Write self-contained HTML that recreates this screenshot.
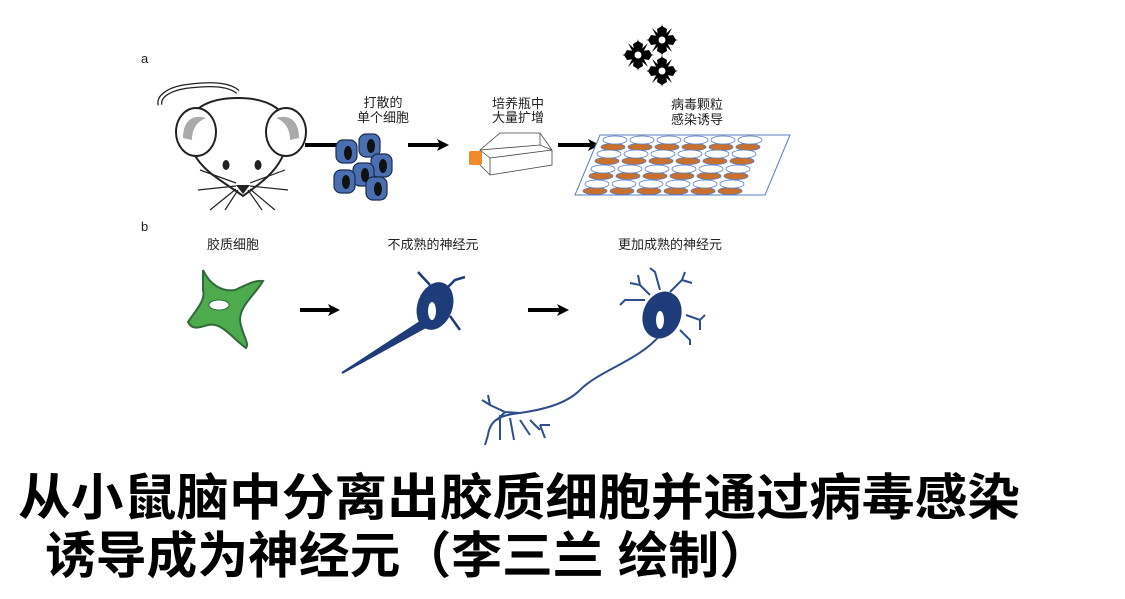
<!DOCTYPE html>
<html><head><meta charset="utf-8"><style>
html,body{margin:0;padding:0;background:#fff;width:1125px;height:599px;overflow:hidden}
svg{display:block}
.s{font-family:"Liberation Sans","Noto Sans CJK SC",sans-serif;font-size:13px;fill:#222}
.cap{font-family:"Liberation Sans","Noto Sans CJK SC",sans-serif;font-weight:bold;font-size:50px;fill:#000}
</style></head><body>
<svg width="1125" height="599" viewBox="0 0 1125 599" xmlns="http://www.w3.org/2000/svg">
<defs>
<marker id="ah" markerWidth="12" markerHeight="12" refX="6" refY="6" orient="auto" markerUnits="userSpaceOnUse"><path d="M0,0 L12,6 L0,12 L3,6 Z" fill="#000"/></marker>
<g id="star"><polygon points="0,-16 2.5,-5 10,-12 5,-2.5 16,0 5,2.5 10,12 2.5,5 0,16 -2.5,5 -10,12 -5,2.5 -16,0 -5,-2.5 -10,-12 -2.5,-5" fill="#000"/><polygon points="0,-14 5,-11 4,-4 11,-5 14,0 11,5 4,4 5,11 0,14 -5,11 -4,4 -11,5 -14,0 -11,-5 -4,-4 -5,-11" fill="#000"/><circle r="3.5" fill="#fff"/></g>
</defs>
<text x="141" y="63" class="s" font-size="14">a</text>
<text x="141" y="231" class="s" font-size="14">b</text>
<!-- mouse -->
<path d="M160,105 C158,96 170,88 190,86 C215,83 230,85 238,92" fill="none" stroke="#222" stroke-width="5"/>
<path d="M160,105 C158,96 170,88 190,86 C215,83 230,85 238,92" fill="none" stroke="#fff" stroke-width="2.5"/>
<path d="M243,196 C222,180 192,168 188,135 C185,108 210,98 238,98 C268,98 292,110 288,138 C284,168 262,182 243,196 Z" fill="#fff" stroke="#222" stroke-width="2"/>
<ellipse cx="196" cy="132" rx="20" ry="24" fill="#fff" stroke="#222" stroke-width="2"/>
<path d="M183,138 C183,120 193,114 206,118 C196,122 192,130 192,140 Z" fill="#aaa"/>
<ellipse cx="286" cy="132" rx="20" ry="24" fill="#fff" stroke="#222" stroke-width="2"/>
<path d="M299,138 C299,120 289,114 276,118 C286,122 290,130 290,140 Z" fill="#aaa"/>
<ellipse cx="226" cy="165" rx="3.5" ry="5" fill="#222"/><ellipse cx="258" cy="165" rx="3.5" ry="5" fill="#222"/>
<path d="M236,185 L250,185 L243,194 Z" fill="#222"/>
<path d="M236,183 L200,170 M236,186 L198,190 M236,189 L210,210 M238,190 L225,210 M250,183 L285,170 M250,186 L288,190 M250,189 L275,210 M248,190 L262,210" stroke="#222" stroke-width="1.2" fill="none"/>
<!-- arrows -->
<line x1="305" y1="145" x2="348" y2="145" stroke="#000" stroke-width="4" marker-end="url(#ah)"/>
<line x1="408" y1="145" x2="443" y2="145" stroke="#000" stroke-width="4" marker-end="url(#ah)"/>
<line x1="558" y1="145" x2="594" y2="145" stroke="#000" stroke-width="4" marker-end="url(#ah)"/>
<!-- cells -->
<g fill="#4a6fb0" stroke="#1a2d55" stroke-width="1.2">
<rect x="336" y="140" width="21" height="23" rx="7"/><rect x="359" y="134" width="21" height="23" rx="7"/>
<rect x="371" y="154" width="21" height="23" rx="7"/><rect x="353" y="163" width="21" height="23" rx="7"/>
<rect x="334" y="170" width="21" height="23" rx="7"/><rect x="366" y="177" width="21" height="23" rx="7"/>
</g>
<g fill="#111">
<ellipse cx="348" cy="153" rx="4" ry="7"/><ellipse cx="371" cy="146" rx="4" ry="7"/><ellipse cx="383" cy="166" rx="4" ry="7"/>
<ellipse cx="365" cy="175" rx="4" ry="7"/><ellipse cx="346" cy="182" rx="4" ry="7"/><ellipse cx="378" cy="189" rx="4" ry="7"/>
</g>
<text x="383" y="107" class="s" text-anchor="middle">打散的</text>
<text x="383" y="122" class="s" text-anchor="middle">单个细胞</text>
<!-- flask -->
<g fill="none" stroke="#444" stroke-width="0.8">
<path d="M480,150 L500,133 L540,133 L552,150 L552,165 L490,175 L480,165 Z"/>
<path d="M480,150 L540,145 L552,150 M540,133 L540,145 M490,158 L552,150 M490,158 L490,175 M480,150 L490,158"/>
</g>
<rect x="469" y="151" width="13" height="14" rx="2" fill="#f08a2a"/>
<text x="518" y="108" class="s" text-anchor="middle">培养瓶中</text>
<text x="518" y="122" class="s" text-anchor="middle">大量扩增</text>
<!-- plate -->
<path d="M600,135 L790,135 L765,195 L575,195 Z" fill="#fff" stroke="#5a7cc0" stroke-width="1"/>
<g stroke="#5a7cc0" stroke-width="0.8">
<g fill="#c8702e">
<ellipse cx="613" cy="147" rx="12" ry="3.5"/><ellipse cx="640" cy="147" rx="12" ry="3.5"/><ellipse cx="667" cy="147" rx="12" ry="3.5"/><ellipse cx="694" cy="147" rx="12" ry="3.5"/><ellipse cx="721" cy="147" rx="12" ry="3.5"/><ellipse cx="748" cy="147" rx="12" ry="3.5"/>
<ellipse cx="607" cy="161" rx="12" ry="3.5"/><ellipse cx="634" cy="161" rx="12" ry="3.5"/><ellipse cx="661" cy="161" rx="12" ry="3.5"/><ellipse cx="688" cy="161" rx="12" ry="3.5"/><ellipse cx="715" cy="161" rx="12" ry="3.5"/><ellipse cx="742" cy="161" rx="12" ry="3.5"/>
<ellipse cx="601" cy="176" rx="12" ry="3.5"/><ellipse cx="628" cy="176" rx="12" ry="3.5"/><ellipse cx="655" cy="176" rx="12" ry="3.5"/><ellipse cx="682" cy="176" rx="12" ry="3.5"/><ellipse cx="709" cy="176" rx="12" ry="3.5"/><ellipse cx="736" cy="176" rx="12" ry="3.5"/>
<ellipse cx="595" cy="191" rx="12" ry="3.5"/><ellipse cx="622" cy="191" rx="12" ry="3.5"/><ellipse cx="649" cy="191" rx="12" ry="3.5"/><ellipse cx="676" cy="191" rx="12" ry="3.5"/><ellipse cx="703" cy="191" rx="12" ry="3.5"/><ellipse cx="730" cy="191" rx="12" ry="3.5"/>
</g>
<g fill="#fff">
<ellipse cx="615" cy="140" rx="12" ry="4"/><ellipse cx="642" cy="140" rx="12" ry="4"/><ellipse cx="669" cy="140" rx="12" ry="4"/><ellipse cx="696" cy="140" rx="12" ry="4"/><ellipse cx="723" cy="140" rx="12" ry="4"/><ellipse cx="750" cy="140" rx="12" ry="4"/>
<ellipse cx="609" cy="154" rx="12" ry="4"/><ellipse cx="636" cy="154" rx="12" ry="4"/><ellipse cx="663" cy="154" rx="12" ry="4"/><ellipse cx="690" cy="154" rx="12" ry="4"/><ellipse cx="717" cy="154" rx="12" ry="4"/><ellipse cx="744" cy="154" rx="12" ry="4"/>
<ellipse cx="603" cy="169" rx="12" ry="4"/><ellipse cx="630" cy="169" rx="12" ry="4"/><ellipse cx="657" cy="169" rx="12" ry="4"/><ellipse cx="684" cy="169" rx="12" ry="4"/><ellipse cx="711" cy="169" rx="12" ry="4"/><ellipse cx="738" cy="169" rx="12" ry="4"/>
<ellipse cx="597" cy="184" rx="12" ry="4"/><ellipse cx="624" cy="184" rx="12" ry="4"/><ellipse cx="651" cy="184" rx="12" ry="4"/><ellipse cx="678" cy="184" rx="12" ry="4"/><ellipse cx="705" cy="184" rx="12" ry="4"/><ellipse cx="732" cy="184" rx="12" ry="4"/>
</g>
</g>
<text x="697" y="109" class="s" text-anchor="middle">病毒颗粒</text>
<text x="697" y="124" class="s" text-anchor="middle">感染诱导</text>
<use href="#star" x="638" y="55"/><use href="#star" x="662" y="40"/><use href="#star" x="662" y="71"/>
<!-- b labels -->
<text x="233" y="249" class="s" text-anchor="middle">胶质细胞</text>
<text x="433" y="249" class="s" text-anchor="middle">不成熟的神经元</text>
<text x="670" y="249" class="s" text-anchor="middle">更加成熟的神经元</text>
<!-- glia -->
<path d="M203,270 C210,285 222,292 235,290 C248,284 255,280 263,281 C255,295 240,305 240,320 C241,333 250,343 246,348 C232,338 222,322 208,325 C198,328 192,330 188,322 C196,310 206,300 203,290 Z" fill="#4daa4d" stroke="#2f6b3a" stroke-width="2"/>
<ellipse cx="219" cy="305" rx="10" ry="5" fill="#fff" stroke="#2f6b3a" stroke-width="1"/>
<line x1="300" y1="310" x2="334" y2="310" stroke="#000" stroke-width="4" marker-end="url(#ah)"/>
<line x1="528" y1="310" x2="563" y2="310" stroke="#000" stroke-width="4" marker-end="url(#ah)"/>
<!-- immature neuron -->
<g fill="#1f3c7a" stroke="#1f3c7a">
<path d="M342,373 L420,322 L424,328 Z" stroke-width="2"/>
<ellipse cx="435" cy="306" rx="17" ry="24" transform="rotate(20 435 306)"/>
<path d="M430,285 L418,272 M445,290 L455,280 L465,277 M450,316 L460,330" stroke-width="2.5" fill="none"/>
</g>
<ellipse cx="432" cy="311" rx="4" ry="9" fill="#fff"/>
<!-- mature neuron -->
<g fill="none" stroke="#2d4d8c" stroke-width="2">
<path d="M660,335 C640,360 600,370 580,390 C565,405 540,410 520,413 C500,415 490,420 488,435"/>
<path d="M520,413 L505,412 L490,405 M505,412 L497,420 M490,405 L482,400 M490,405 L488,395 M488,435 L485,445 M500,415 L500,440 M510,418 L514,440 M520,420 L530,435 M530,420 L540,430 M540,425 L545,438 M540,425 L550,425"/>
<path d="M650,295 L640,285 L630,283 M640,285 L638,275 M645,300 L625,300 L620,305 M660,290 L655,272 L650,268 M670,292 L682,280 L685,272 M682,280 L692,283 M686,315 L700,320 L705,315 M700,320 L700,330 M680,330 L690,340 L690,345"/>
</g>
<ellipse cx="662" cy="315" rx="19" ry="24" transform="rotate(20 662 315)" fill="#1f3c7a"/>
<ellipse cx="660" cy="320" rx="4" ry="9" fill="#fff"/>
<!-- caption -->
<text x="18" y="515" class="cap" textLength="1002" lengthAdjust="spacingAndGlyphs">从小鼠脑中分离出胶质细胞并通过病毒感染</text>
<text x="45" y="573" class="cap" textLength="725" lengthAdjust="spacingAndGlyphs">诱导成为神经元（李三兰 绘制）</text>
</svg>
</body></html>
